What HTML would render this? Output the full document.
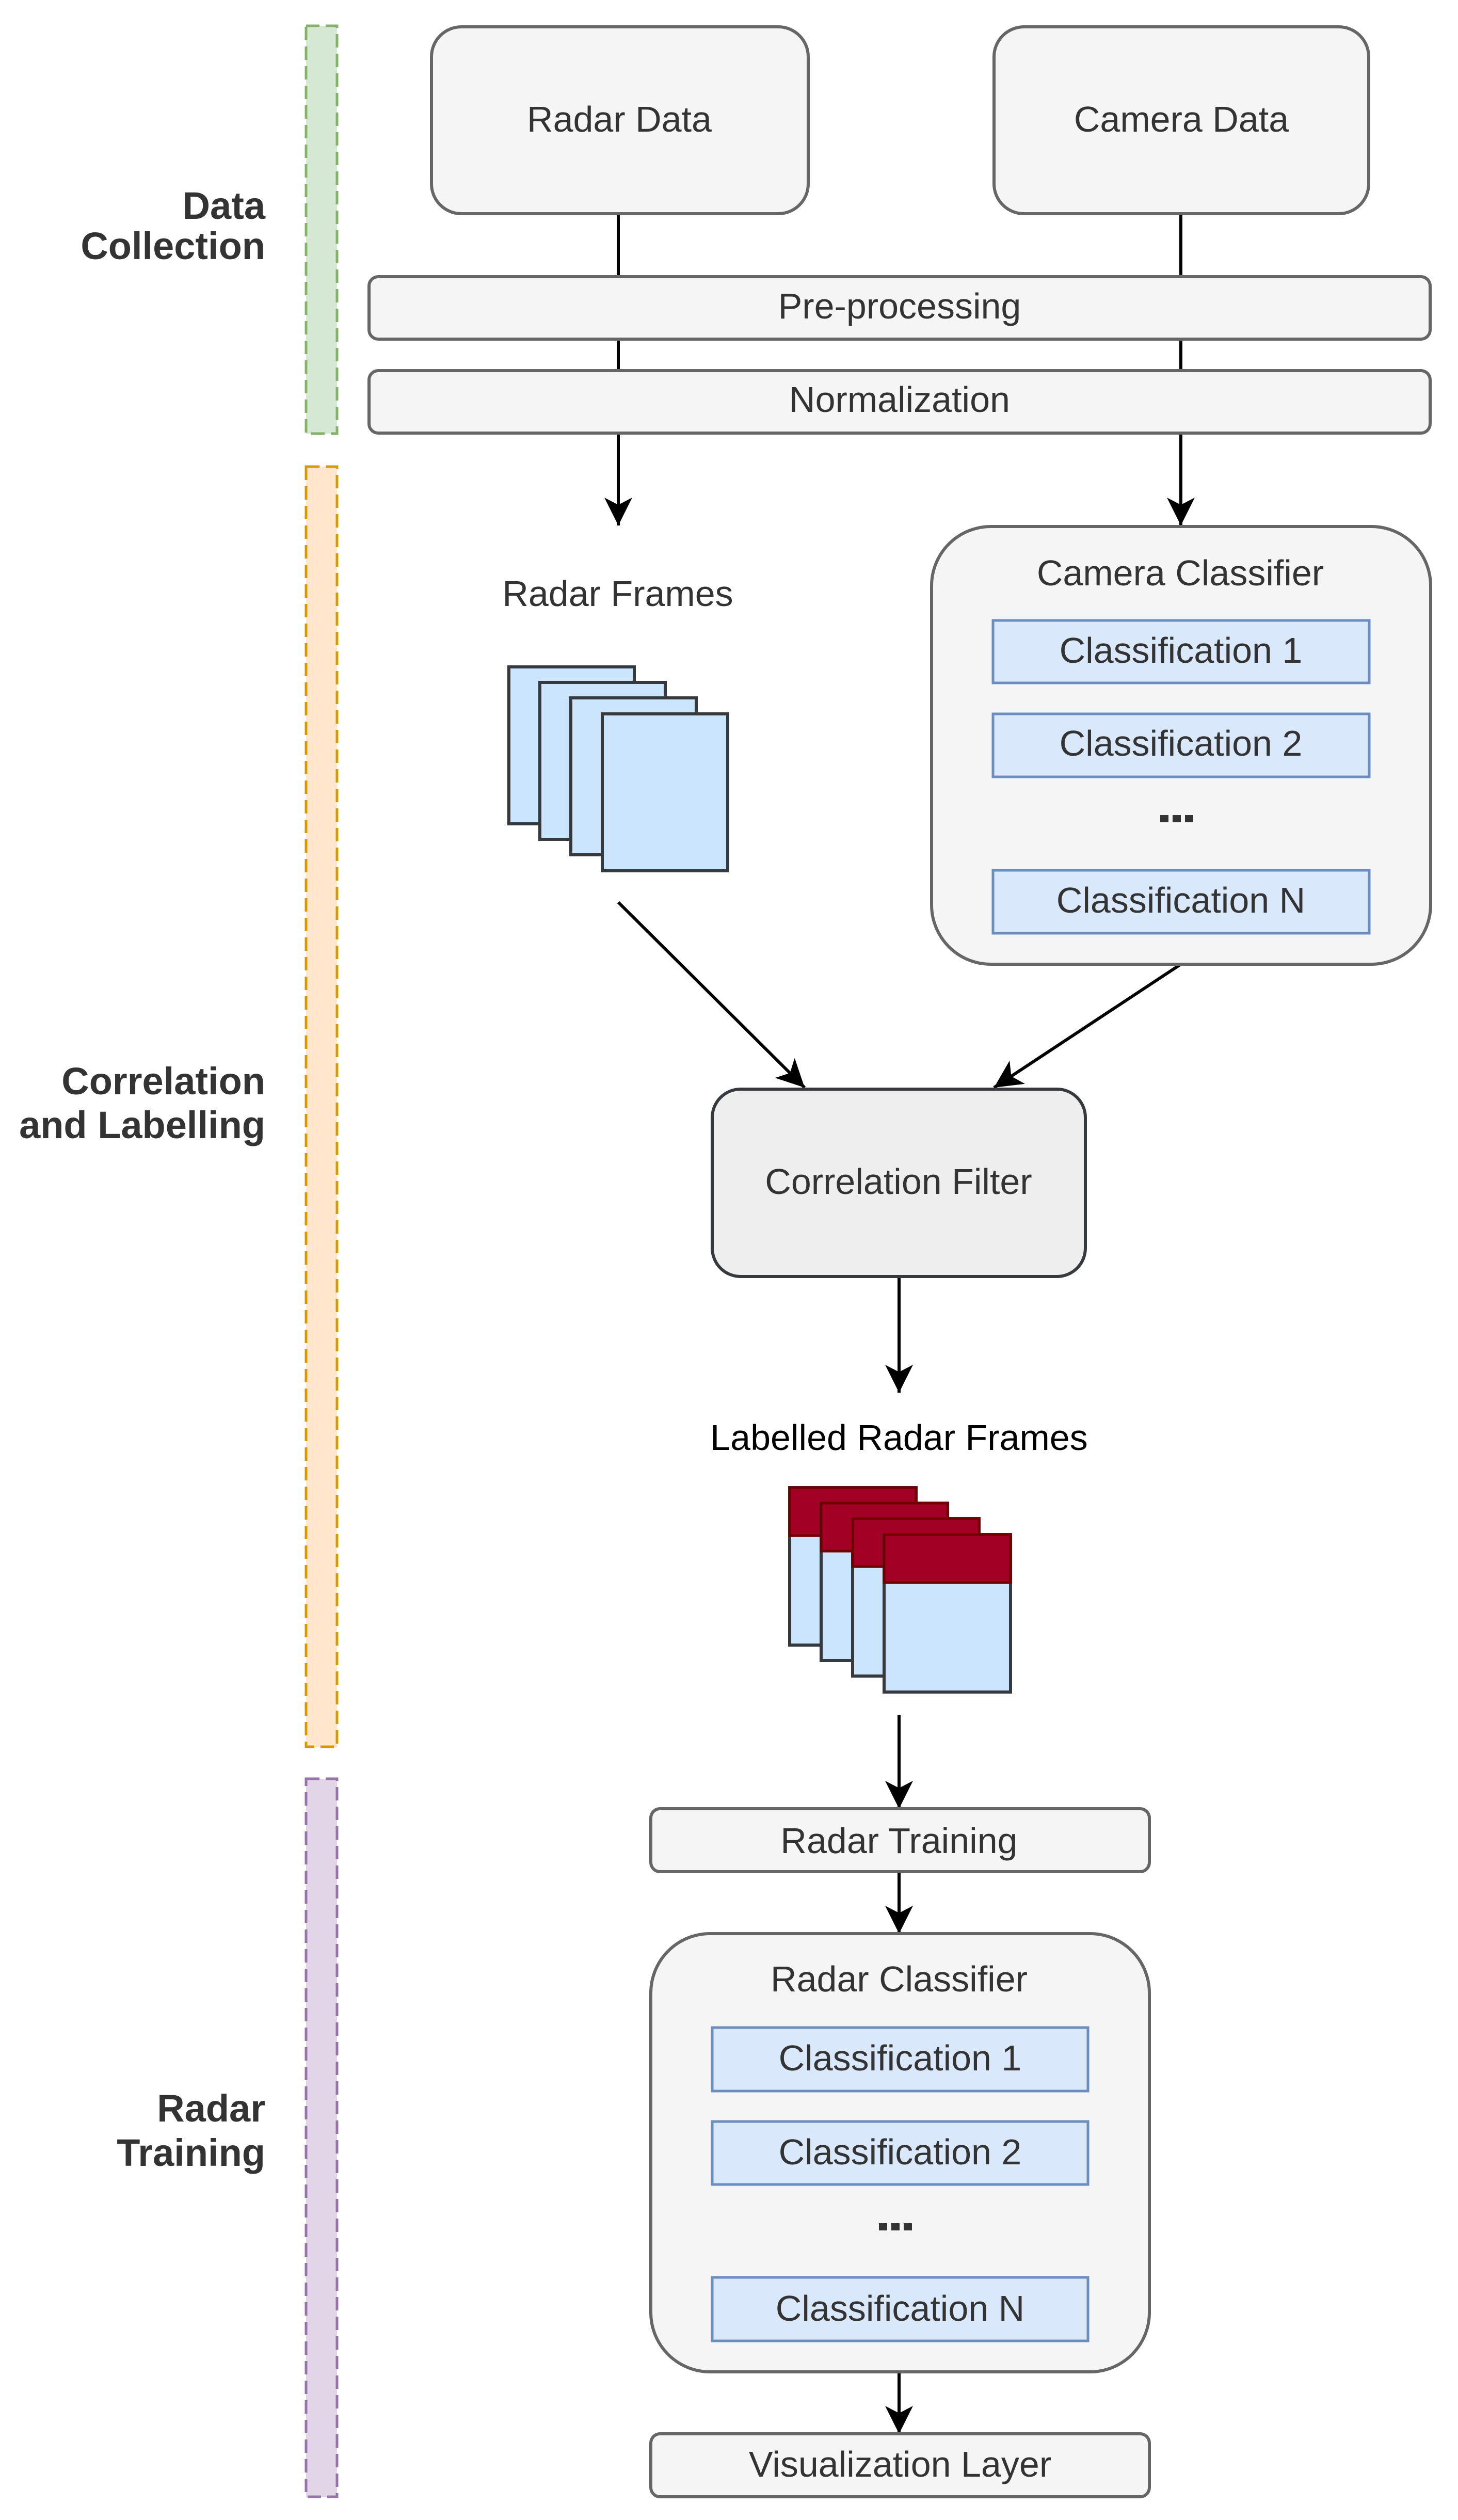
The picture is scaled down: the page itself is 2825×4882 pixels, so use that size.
<!DOCTYPE html>
<html><head><meta charset="utf-8"><style>
html,body{margin:0;padding:0;background:#fff;}
svg{display:block;}
text{font-family:"Liberation Sans",Arial,sans-serif;}
</style></head><body>
<svg width="2825" height="4882" viewBox="0 0 2825 4882" xmlns="http://www.w3.org/2000/svg">
<defs>
<marker id="ah" markerUnits="userSpaceOnUse" markerWidth="60" markerHeight="60" refX="0" refY="0" viewBox="-56 -30 60 60" orient="auto" overflow="visible">
<path d="M0,0 L-54,-27 L-40,0 L-54,27 Z" fill="#000"/>
</marker>
</defs>

<!-- lanes -->
<rect x="593" y="50" width="60" height="790" fill="#d5e8d4" stroke="#82b366" stroke-width="5" stroke-dasharray="26,12"/>
<rect x="593" y="904" width="60" height="2480" fill="#ffe6cc" stroke="#d79b00" stroke-width="5" stroke-dasharray="26,12"/>
<rect x="593" y="3446" width="60" height="1391" fill="#e1d5e7" stroke="#9673a6" stroke-width="5" stroke-dasharray="26,12"/>

<g font-weight="bold" font-size="74" fill="#333" text-anchor="end">
<text x="514" y="424">Data</text>
<text x="514" y="502">Collection</text>
<text x="514" y="2120">Correlation</text>
<text x="514" y="2205">and Labelling</text>
<text x="514" y="4110">Radar</text>
<text x="514" y="4196">Training</text>
</g>

<!-- connectors top -->
<g stroke="#000" stroke-width="6" fill="none">
<line x1="1198" y1="414" x2="1198" y2="1018" marker-end="url(#ah)"/>
<line x1="2288" y1="414" x2="2288" y2="1018" marker-end="url(#ah)"/>
<line x1="1198" y1="1748" x2="1559" y2="2107" marker-end="url(#ah)"/>
<line x1="2288" y1="1868" x2="1926" y2="2107" marker-end="url(#ah)"/>
<line x1="1742" y1="2473" x2="1742" y2="2698" marker-end="url(#ah)"/>
<line x1="1742" y1="3322" x2="1742" y2="3504" marker-end="url(#ah)"/>
<line x1="1742" y1="3626" x2="1742" y2="3746" marker-end="url(#ah)"/>
<line x1="1742" y1="4595" x2="1742" y2="4715" marker-end="url(#ah)"/>
</g>

<g fill="#f5f5f5" stroke="#666" stroke-width="6">
<rect x="836" y="52" width="730" height="362" rx="58"/>
<rect x="1926" y="52" width="726" height="362" rx="58"/>
<rect x="715" y="536" width="2056" height="121" rx="18"/>
<rect x="715" y="718" width="2056" height="121" rx="18"/>
<rect x="1805" y="1020" width="967" height="848" rx="115"/>
<rect x="1261" y="3504" width="966" height="122" rx="18"/>
<rect x="1261" y="3746" width="966" height="849" rx="115"/>
<rect x="1261" y="4715" width="966" height="122" rx="18"/>
</g>
<rect x="1380" y="2110" width="723" height="363" rx="55" fill="#eeeeee" stroke="#36393d" stroke-width="6"/>

<!-- classification boxes -->
<g fill="#dae8fc" stroke="#6c8ebf" stroke-width="5">
<rect x="1924" y="1202" width="729" height="121"/>
<rect x="1924" y="1383" width="729" height="122"/>
<rect x="1924" y="1686" width="729" height="122"/>
<rect x="1380" y="3928" width="728" height="123"/>
<rect x="1380" y="4110" width="728" height="122"/>
<rect x="1380" y="4412" width="728" height="123"/>
</g>

<!-- radar frames -->
<g fill="#cce5ff" stroke="#36393d" stroke-width="6">
<rect x="986" y="1292" width="243" height="304"/>
<rect x="1046" y="1322" width="243" height="304"/>
<rect x="1106" y="1352" width="243" height="304"/>
<rect x="1167" y="1383" width="243" height="304"/>
</g>

<!-- labelled frames -->
<g>
<g><rect x="1530" y="2882" width="245" height="305" fill="#cce5ff" stroke="#36393d" stroke-width="6"/><rect x="1530" y="2882" width="245" height="93" fill="#a20025" stroke="#6f0000" stroke-width="5"/></g>
<g><rect x="1591" y="2912" width="245" height="305" fill="#cce5ff" stroke="#36393d" stroke-width="6"/><rect x="1591" y="2912" width="245" height="93" fill="#a20025" stroke="#6f0000" stroke-width="5"/></g>
<g><rect x="1652" y="2942" width="245" height="305" fill="#cce5ff" stroke="#36393d" stroke-width="6"/><rect x="1652" y="2942" width="245" height="93" fill="#a20025" stroke="#6f0000" stroke-width="5"/></g>
<g><rect x="1713" y="2973" width="245" height="305" fill="#cce5ff" stroke="#36393d" stroke-width="6"/><rect x="1713" y="2973" width="245" height="93" fill="#a20025" stroke="#6f0000" stroke-width="5"/></g>
</g>

<g font-size="70" fill="#333" text-anchor="middle">
<text x="1200" y="255">Radar Data</text>
<text x="2289" y="255">Camera Data</text>
<text x="1743" y="617">Pre-processing</text>
<text x="1743" y="798">Normalization</text>
<text x="1197" y="1174">Radar Frames</text>
<text x="2287" y="1134">Camera Classifier</text>
<text x="2288" y="1284">Classification 1</text>
<text x="2288" y="1464">Classification 2</text>
<text x="2288" y="1768">Classification N</text>
<text x="1741" y="2313">Correlation Filter</text>
<text x="1742" y="2809" fill="#000">Labelled Radar Frames</text>
<text x="1742" y="3590">Radar Training</text>
<text x="1742" y="3858">Radar Classifier</text>
<text x="1744" y="4011">Classification 1</text>
<text x="1744" y="4193">Classification 2</text>
<text x="1744" y="4496">Classification N</text>
<text x="1744" y="4798">Visualization Layer</text>
</g>
<g fill="#333">
<rect x="2248" y="1579" width="16" height="14"/><rect x="2272" y="1579" width="16" height="14"/><rect x="2296" y="1579" width="16" height="14"/>
<rect x="1703" y="4307" width="16" height="14"/><rect x="1727" y="4307" width="16" height="14"/><rect x="1751" y="4307" width="16" height="14"/>
</g>
</svg>
</body></html>
